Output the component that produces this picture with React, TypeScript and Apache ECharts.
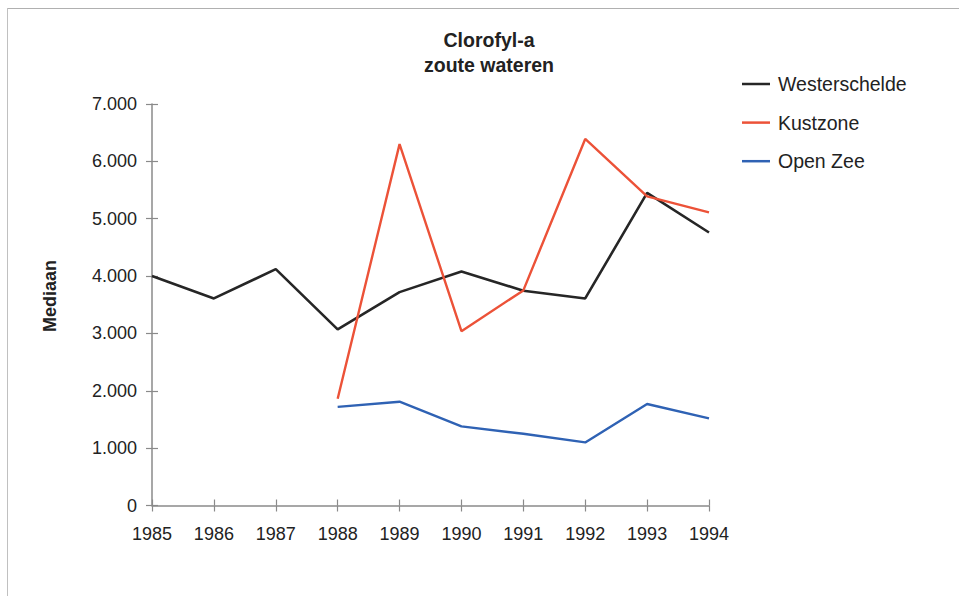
import React, { useEffect, useRef } from "react";
import * as echarts from "echarts";

const years = ["1985", "1986", "1987", "1988", "1989", "1990", "1991", "1992", "1993", "1994"];
const westerschelde = [4000, 3610, 4120, 3070, 3720, 4080, 3745, 3610, 5450, 4760];
const kustzone = [null, null, null, 1860, 6300, 3040, 3750, 6390, 5390, 5110];
const openZee = [null, null, null, 1720, 1810, 1380, 1250, 1100, 1770, 1520];
const seriesNames = ["Westerschelde", "Kustzone", "Open Zee"];
const titleText = "Clorofyl-a\nzoute wateren";
const yName = "Mediaan";

const FONT = "'Liberation Sans', Arial, sans-serif";
const fmt = (v: number) => String(v).replace(/\B(?=(\d{3})+(?!\d))/g, ".");

export default function App() {
  const ref = useRef<HTMLDivElement>(null);
  useEffect(() => {
    if (!ref.current) return;
    const chart = echarts.init(ref.current, undefined, { renderer: "svg" });
    const axisColor = "#8a8a8a";
    const yBase = { type: "value", min: 0, max: 7000, interval: 1000, splitLine: { show: false } };
    chart.setOption({
      animation: false,
      backgroundColor: "#ffffff",
      legend: {
        orient: "vertical",
        left: 742,
        top: 74,
        padding: 0,
        icon: "rect",
        itemWidth: 28,
        itemHeight: 2.5,
        itemGap: 18.6,
        data: seriesNames,
        textStyle: { fontFamily: FONT, fontSize: 19.5, color: "#222", lineHeight: 20, padding: [0, 0, 0, 3] },
      },
      grid: { left: 152, right: 250, top: 104, bottom: 90.5, containLabel: false },
      xAxis: [
        {
          type: "category",
          data: years,
          boundaryGap: false,
          axisLine: { lineStyle: { color: axisColor, width: 1.5 } },
          axisTick: { show: true, length: 6, lineStyle: { color: axisColor, width: 1.2 } },
          axisLabel: { fontFamily: FONT, fontSize: 18, color: "#222", margin: 19 },
        },
        {
          type: "category",
          data: years,
          boundaryGap: false,
          position: "bottom",
          axisLine: { show: false },
          axisTick: { show: true, inside: true, length: 6, lineStyle: { color: axisColor, width: 1.2 } },
          axisLabel: { show: false },
        },
      ],
      yAxis: [
        {
          ...yBase,
          axisLine: { show: true, lineStyle: { color: axisColor, width: 1.5 } },
          axisTick: { show: true, length: 6, lineStyle: { color: axisColor, width: 1.2 } },
          axisLabel: { fontFamily: FONT, fontSize: 18, color: "#222", margin: 15, formatter: fmt },
        },
        {
          ...yBase,
          position: "left",
          axisLine: { show: false },
          axisTick: { show: true, inside: true, length: 6, lineStyle: { color: axisColor, width: 1.2 } },
          axisLabel: { show: false },
        },
      ],
      graphic: [
        { type: "line", shape: { x1: 8, y1: 8.5, x2: 959, y2: 8.5 }, style: { stroke: "#b0b0b0", lineWidth: 1 } },
        { type: "line", shape: { x1: 7.5, y1: 8, x2: 7.5, y2: 596 }, style: { stroke: "#c0c0c0", lineWidth: 1 } },
        {
          type: "text",
          x: 489,
          y: 52,
          style: {
            text: titleText,
            fontFamily: FONT,
            fontSize: 19.5,
            fontWeight: "bold",
            fill: "#222",
            align: "center",
            verticalAlign: "middle",
            lineHeight: 25,
          },
        },
        {
          type: "text",
          x: 50,
          y: 296,
          rotation: Math.PI / 2,
          style: {
            text: yName,
            fontFamily: FONT,
            fontSize: 18,
            fontWeight: "bold",
            fill: "#222",
            align: "center",
            verticalAlign: "middle",
          },
        },
      ],
      series: [
        {
          name: seriesNames[0],
          type: "line",
          data: westerschelde,
          symbol: "none",
          lineStyle: { color: "#262626", width: 2.6 },
          itemStyle: { color: "#262626" },
        },
        {
          name: seriesNames[1],
          type: "line",
          data: kustzone,
          symbol: "none",
          lineStyle: { color: "#ec5238", width: 2.4 },
          itemStyle: { color: "#ec5238" },
        },
        {
          name: seriesNames[2],
          type: "line",
          data: openZee,
          symbol: "none",
          lineStyle: { color: "#2f62b4", width: 2.4 },
          itemStyle: { color: "#2f62b4" },
        },
      ],
    });
    return () => chart.dispose();
  }, []);
  return <div ref={ref} style={{ position: "fixed", left: 0, top: 0, width: 959, height: 596 }} />;
}
